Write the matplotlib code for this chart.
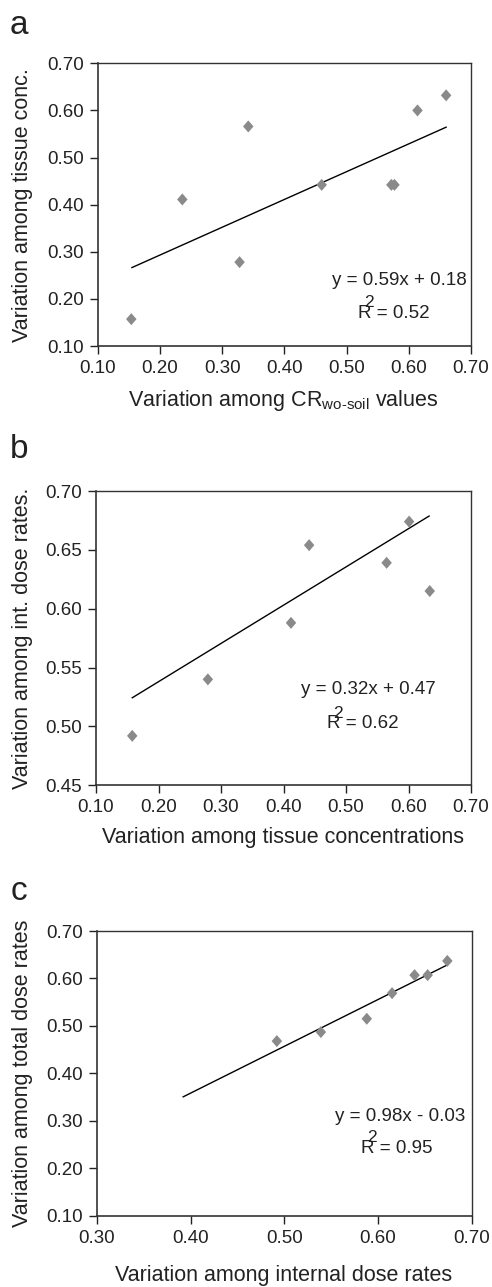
import numpy as np
import matplotlib
matplotlib.use("Agg")
import matplotlib.pyplot as plt

plt.rcParams['font.family'] = ['Liberation Sans', 'DejaVu Sans']
plt.rcParams['mathtext.fontset'] = 'custom'
plt.rcParams['mathtext.rm'] = 'Liberation Sans'
plt.rcParams['mathtext.it'] = 'Liberation Sans:italic'
plt.rcParams['mathtext.bf'] = 'Liberation Sans:bold'

# ---- data ----
a_x = [0.154, 0.236, 0.328, 0.342, 0.460, 0.572, 0.577, 0.614, 0.660]
a_y = [0.157, 0.411, 0.278, 0.566, 0.442, 0.442, 0.442, 0.600, 0.632]
b_x = [0.158, 0.279, 0.412, 0.441, 0.565, 0.601, 0.634]
b_y = [0.492, 0.540, 0.588, 0.654, 0.639, 0.674, 0.615]
c_x = [0.492, 0.539, 0.588, 0.615, 0.639, 0.653, 0.674]
c_y = [0.468, 0.487, 0.515, 0.569, 0.607, 0.607, 0.637]

# trend lines as drawn (slope, intercept, x start, x end)
a_trend = [0.59, 0.175, 0.155, 0.660]
b_trend = [0.325, 0.473, 0.158, 0.633]
c_trend = [0.986, -0.036, 0.392, 0.673]

a_eq = "y = 0.59x + 0.18"
a_r2 = "0.52"
b_eq = "y = 0.32x + 0.47"
b_r2 = "0.62"
c_eq = "y = 0.98x - 0.03"
c_r2 = "0.95"

a_xticks = [0.10, 0.20, 0.30, 0.40, 0.50, 0.60, 0.70]
a_yticks = [0.10, 0.20, 0.30, 0.40, 0.50, 0.60, 0.70]
b_xticks = [0.10, 0.20, 0.30, 0.40, 0.50, 0.60, 0.70]
b_yticks = [0.45, 0.50, 0.55, 0.60, 0.65, 0.70]
c_xticks = [0.30, 0.40, 0.50, 0.60, 0.70]
c_yticks = [0.10, 0.20, 0.30, 0.40, 0.50, 0.60, 0.70]

W, H = 492, 1287
fig = plt.figure(figsize=(W / 100, H / 100), dpi=100)

TXT = '#222222'
MK = '#8a8a8a'
DIAMOND = [(0, 1.15), (1, 0), (0, -1.15), (-1, 0), (0, 1.15)]


def px_axes(left, top, right, bottom):
    return fig.add_axes([left / W, 1 - bottom / H, (right - left) / W, (bottom - top) / H])


panels = [
    dict(box=(97.7, 63.3, 471, 346), x=a_x, y=a_y, tr=a_trend, xt=a_xticks, yt=a_yticks,
         xl=r"Variation among CR$_{\text{wo-soil}}$ values",
         yl="Variation among tissue conc.", eq=a_eq, r2=a_r2, letter='a', ly=25,
         eqpos=(467, 280), rpos=(357.5, 313), xlabel_y=400),
    dict(box=(96, 491, 471, 785.3), x=b_x, y=b_y, tr=b_trend, xt=b_xticks, yt=b_yticks,
         xl="Variation among tissue concentrations",
         yl="Variation among int. dose rates.", eq=b_eq, r2=b_r2, letter='b', ly=450,
         eqpos=(435.7, 689.3), rpos=(326.7, 724), xlabel_y=838),
    dict(box=(97, 931, 471.7, 1215.7), x=c_x, y=c_y, tr=c_trend, xt=c_xticks, yt=c_yticks,
         xl="Variation among internal dose rates",
         yl="Variation among total dose rates", eq=c_eq, r2=c_r2, letter='c', ly=892,
         eqpos=(465.7, 1116.7), rpos=(360.7, 1148.3), xlabel_y=1275),
]

for p in panels:
    l, t, r, b = p['box']
    ax = px_axes(l, t, r, b)
    x = np.array(p['x'])
    y = np.array(p['y'])
    ax.scatter(x, y, marker=DIAMOND, s=75, color=MK, edgecolors='none', zorder=3)
    k, c0, x0, x1 = p['tr']
    xs = np.array([x0, x1])
    ax.plot(xs, k * xs + c0, color='black', lw=1.0, zorder=2)

    ax.set_xlim(p['xt'][0], p['xt'][-1])
    ax.set_ylim(p['yt'][0], p['yt'][-1])
    ax.set_xticks(p['xt'])
    ax.set_yticks(p['yt'])
    ax.set_xticklabels([f"{v:.2f}" for v in p['xt']])
    ax.set_yticklabels([f"{v:.2f}" for v in p['yt']])
    ax.tick_params(direction='out', length=6, width=1.0, color='#222222',
                   labelsize=13.5, labelcolor=TXT, pad=4)
    for s in ax.spines.values():
        s.set_color('#333333')
        s.set_linewidth(1.0)
    ax.spines['left'].set_linewidth(1.2)
    ax.spines['bottom'].set_linewidth(1.2)

    def fx(px):
        return (px - l) / (r - l)

    def fy(py):
        return 1 - (py - t) / (b - t)

    ax.set_xlabel(p['xl'], fontsize=15.5, color=TXT)
    ax.xaxis.set_label_coords(fx(283.5), fy(p['xlabel_y']))
    ax.xaxis.label.set_va('center')
    ax.set_ylabel(p['yl'], fontsize=15.5, color=TXT)
    ax.yaxis.set_label_coords(fx(22.5), 0.5)
    ax.yaxis.label.set_va('center')

    ex, ey = p['eqpos']
    ax.text(fx(ex), fy(ey), p['eq'], transform=ax.transAxes, ha='right', va='center',
            fontsize=13.5, color=TXT)
    rx, ry = p['rpos']
    ax.text(fx(rx), fy(ry), "R = " + p['r2'], transform=ax.transAxes, ha='left',
            va='center', fontsize=13.5, color=TXT)
    ax.text(fx(rx + 11), fy(ry - 11), "2", transform=ax.transAxes, ha='center',
            va='center', fontsize=12.5, color=TXT)

    fig.text(19 / W, 1 - p['ly'] / H, p['letter'], fontsize=24, color=TXT,
             ha='center', va='center')

fig.savefig("out.png", dpi=100)
